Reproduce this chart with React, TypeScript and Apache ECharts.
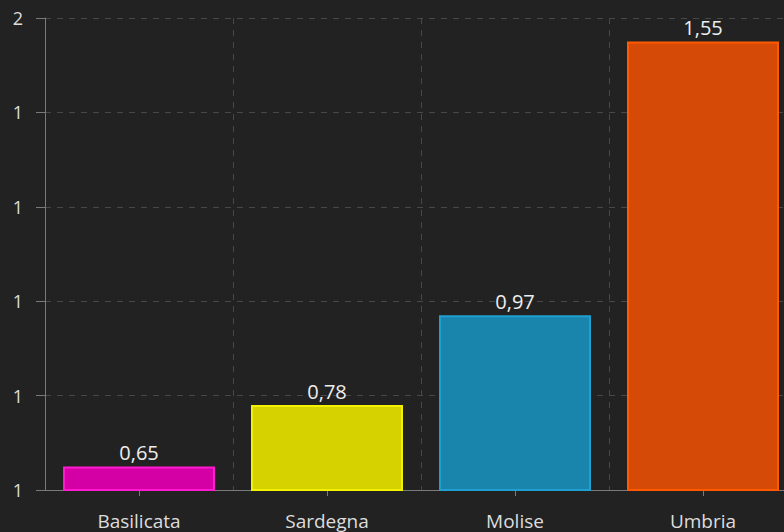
import React, { useEffect, useRef } from "react";
import * as echarts from "echarts";

const categories = ["Basilicata", "Sardegna", "Molise", "Umbria"];
const values = [0.65, 0.78, 0.97, 1.55];
const fillColors = ["#d400a6", "#d6d200", "#1985ad", "#d44a06"];
const borderColors = ["#ff1ad0", "#f2f200", "#20a0d0", "#ff5a00"];

export default function App() {
  const ref = useRef<HTMLDivElement>(null);
  useEffect(() => {
    if (!ref.current) return;
    const chart = echarts.init(ref.current, undefined, { renderer: "svg" });
    const font = "'Open Sans', 'Noto Sans', sans-serif";
    chart.setOption({
      animation: false,
      backgroundColor: "#222222",
      textStyle: { fontFamily: font },
      grid: { left: 45, right: 0, top: 18, bottom: 42, containLabel: false },
      xAxis: [
        {
          type: "category",
          data: categories,
          axisLine: { show: true, lineStyle: { color: "#7a7a7a", width: 1 } },
          axisTick: { show: true, alignWithLabel: true, length: 6, lineStyle: { color: "#7a7a7a" } },
          axisLabel: { color: "#dddddd", fontSize: 19, margin: 21, fontFamily: font },
          splitLine: { show: false },
        },
        {
          type: "category",
          data: categories,
          position: "bottom",
          axisLine: { show: false },
          axisTick: { show: false },
          axisLabel: { show: false },
          splitLine: { show: true, lineStyle: { color: "#484848", type: [6, 6], width: 1 } },
        },
      ],
      yAxis: {
        type: "value",
        min: 0.6,
        max: 1.6,
        interval: 0.2,
        axisLine: { show: true, lineStyle: { color: "#7a7a7a", width: 1 } },
        axisTick: { show: true, length: 9, lineStyle: { color: "#7a7a7a" } },
        axisLabel: {
          color: "#dddddd",
          fontSize: 18,
          margin: 22,
          fontFamily: font,
          formatter: (v: number) => String(Math.round(v)),
        },
        splitLine: { show: true, lineStyle: { color: "#484848", type: [6, 6], width: 1 } },
      },
      series: [
        {
          type: "bar",
          xAxisIndex: 0,
          barWidth: 152,
          data: values.map((v, i) => ({
            value: v,
            itemStyle: { color: fillColors[i], borderColor: borderColors[i], borderWidth: 2 },
          })),
          label: {
            show: true,
            position: "top",
            distance: 4,
            color: "#eeeeee",
            fontSize: 20,
            fontFamily: font,
            formatter: (p: any) => p.value.toFixed(2).replace(".", ","),
          },
        },
      ],
    });
    return () => chart.dispose();
  }, []);
  return (
    <div style={{ position: "absolute", left: 0, top: 0, width: 784, height: 532, overflow: "hidden" }}>
      <div ref={ref} style={{ width: 797, height: 532 }} />
    </div>
  );
}
